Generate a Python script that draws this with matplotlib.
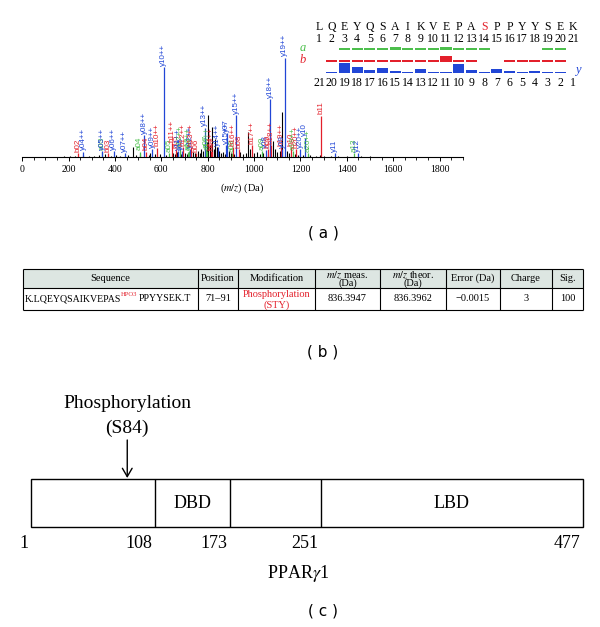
import matplotlib.pyplot as plt
from matplotlib.patches import Rectangle
from matplotlib.ticker import MultipleLocator

plt.rcParams['font.family'] = ['Liberation Serif', 'DejaVu Serif']
plt.rcParams['mathtext.fontset'] = 'stix'

W, H = 600, 627
RED = '#e3202b'
BLUE = '#2146d6'
GREEN = '#4cbf4c'
ion_colors = {'a': GREEN, 'b': RED, 'y': BLUE}

# ---------------- (a) MS/MS spectrum ----------------
# annotated fragment peaks (m/z, relative height, series, label)
frag_mz = [242, 264, 343, 345, 371, 394, 442, 506, 526, 534, 561, 581, 610,
           634, 645, 662, 674, 680, 689, 694, 715, 721, 724, 729, 749, 788,
           792, 799, 813, 820, 844, 880, 883, 905, 910, 923, 933, 991, 1034,
           1050, 1062, 1069, 1073, 1117, 1121, 1133, 1161, 1167, 1181, 1198,
           1218, 1231, 1290, 1348, 1430, 1447]
frag_int = [4, 5, 5, 6, 4, 6, 4, 5, 22, 5, 8, 9, 90,
            4, 14, 8, 6, 8, 6, 10, 5, 6, 8, 10, 4, 29,
            8, 6, 6, 6, 10, 12, 24, 4, 10, 42, 8, 12, 6,
            7, 8, 58, 12, 10, 8, 99, 10, 6, 8, 8,
            19, 4, 41, 4, 4, 4]
frag_ion = ['b', 'y', 'a', 'y', 'b', 'y', 'y', 'a', 'y', 'b', 'y', 'b', 'y',
            'a', 'b', 'b', 'y', 'a', 'y', 'b', 'a', 'a', 'y', 'b', 'b', 'y',
            'a', 'a', 'b', 'b', 'y', 'y', 'y', 'a', 'b', 'y', 'b', 'b', 'a',
            'y', 'b', 'y', 'b', 'b', 'y', 'y', 'b', 'a', 'b', 'y',
            'y', 'a', 'b', 'y', 'a', 'y']
frag_lab = ['b02', 'y04++', 'a03', 'y05++', 'b03', 'y06++', 'y07++', 'a04',
            'y08++', 'b04', 'y09++', 'b10++', 'y10++', 'a05', 'b11++', 'b05',
            'y11++', 'a12++', 'y05', 'b12++', 'a13++', 'a06', 'y12++',
            'b13++', 'b06', 'y13++', 'a07', 'a14++', 'b14++', 'b07', 'y14++',
            'y15++', 'y07', 'a08', 'b16++', 'y15++', 'b08', 'b17++', 'a09',
            'y08', 'b09', 'y18++', 'b18++', 'b19++', 'y09', 'y19++', 'b10',
            'a19++', 'b20++', 'y20++', 'y10', 'a20++', 'b11', 'y11', 'a13',
            'y12']

# unassigned peaks
noise_mz = [180, 205, 228, 262, 290, 310, 330, 356, 382, 405, 420, 455, 478,
            490, 510, 545, 553, 572, 596, 620, 650, 660, 668, 685, 700, 710,
            735, 745, 757, 765, 772, 780, 796, 803, 812, 818, 825, 832, 838,
            850, 858, 866, 875, 890, 900, 915, 940, 950, 963, 975, 983, 1000,
            1012, 1025, 1040, 1058, 1080, 1088, 1097, 1110, 1122, 1140, 1150,
            1175, 1190, 1210, 1240, 1265, 1285, 1300, 1330, 1360, 1400, 1460,
            1500]
noise_int = [1, 1.5, 1, 2, 1.5, 1, 2, 3, 1.5, 2, 1.5, 2, 10,
             2, 3, 2, 4, 3, 3, 2, 4, 3, 5, 3, 4, 3,
             5, 4, 6, 4, 8, 6, 15, 42, 12, 30, 8, 18, 10,
             6, 4, 5, 3, 6, 4, 3, 5, 3, 4, 25, 8, 4,
             5, 3, 4, 3, 16, 8, 5, 6, 45, 6, 4,
             3, 2, 2, 2, 1.5, 2, 1, 1, 1, 1, 1,
             1]

# fragment coverage map
residues = list('LQEYQSAIKVEPASPPYYSEK')
phospho_site = 14
a_pos = [3, 4, 5, 6, 7, 8, 9, 10, 11, 12, 13, 14, 19, 20]
a_size = [1.6, 1.6, 1.6, 1.6, 2.6, 1.6, 1.6, 1.6, 2.6, 1.6, 1.6, 1.6, 1.6, 1.6]
b_pos = [2, 3, 4, 5, 6, 7, 8, 9, 10, 11, 12, 13, 16, 17, 18, 19, 20]
b_size = [2, 2, 2, 2, 2, 2, 2, 2, 2, 5.5, 2, 2, 2, 2, 2, 2, 2]
y_pos = list(range(2, 21))
y_size = [1.5, 10, 6, 3, 5, 2.5, 1.5, 4.3, 1.5, 1.5, 9.3, 2.7, 1.5, 3.7,
          2.3, 1.5, 2, 1.5, 1.5]

# ---------------- (b) table ----------------
col_edges = [23, 198, 238, 315, 380, 446, 500, 552, 583]
header = ['Sequence', 'Position', 'Modification', None, None, 'Error (Da)',
          'Charge', 'Sig.']
row_vals = [None, '71–91', None, '836.3947', '836.3962', '−0.0015', '3', '100']

# ---------------- (c) PPARg1 domains ----------------
domain_bounds = [1, 108, 173, 251, 477]
domain_names = ['', 'DBD', '', 'LBD']
phospho_res = 84

fig = plt.figure(figsize=(W / 100, H / 100), dpi=100)


def px_axes(x0, y0, x1, y1):
    ax = fig.add_axes([x0 / W, 1 - y1 / H, (x1 - x0) / W, (y1 - y0) / H])
    return ax


# spectrum
ax = px_axes(22.2, 57, 462.8, 157)
ax.set_xlim(0, 1900)
ax.set_ylim(0, 100)
ax.vlines(noise_mz, 0, noise_int, color='black', lw=0.8)
for mz, h, ion, lab in zip(frag_mz, frag_int, frag_ion, frag_lab):
    c = ion_colors[ion]
    ax.vlines(mz, 0, h, color=c, lw=0.9)
    ax.text(mz, h + 1.5, lab, rotation=90, ha='center', va='bottom',
            fontsize=5.8, color=c, family='Liberation Sans', clip_on=False)
for s in ['left', 'top', 'right']:
    ax.spines[s].set_visible(False)
ax.spines['bottom'].set_linewidth(0.8)
ax.set_yticks([])
ax.set_xticks(range(0, 1801, 200))
ax.xaxis.set_minor_locator(MultipleLocator(50))
ax.tick_params(axis='x', which='major', length=3, width=0.7, labelsize=7, pad=3)
ax.tick_params(axis='x', which='minor', length=2, width=0.6)
ax.set_xlabel('($\\mathit{m/z}$) (Da)', fontsize=7.5, labelpad=5)

# coverage map
ax2 = px_axes(290, 10, 600, 95)
ax2.set_xlim(1 + (290 - 319) / 12.7, 1 + (600 - 319) / 12.7)
ax2.set_ylim(95, 10)
ax2.axis('off')
for i, r in enumerate(residues):
    ax2.text(i + 1, 27, r, ha='center', va='center', fontsize=8.5,
             color=RED if i + 1 == phospho_site else 'black')
    ax2.text(i + 1, 39, str(i + 1), ha='center', va='center', fontsize=8.5)
    ax2.text(i + 1, 83, str(len(residues) - i), ha='center', va='center',
             fontsize=8.5)
ax2.bar(a_pos, [-v for v in a_size], bottom=50, width=0.88, color=GREEN)
ax2.bar(b_pos, [-v for v in b_size], bottom=61.5, width=0.88, color=RED)
ax2.bar(y_pos, [-v for v in y_size], bottom=73, width=0.88, color=BLUE)
ax2.text(-0.3, 48, 'a', style='italic', color=GREEN, fontsize=9,
         ha='center', va='center')
ax2.text(-0.3, 60, 'b', style='italic', color=RED, fontsize=9,
         ha='center', va='center')
ax2.text(21.4, 70.5, 'y', style='italic', color=BLUE, fontsize=9,
         ha='center', va='center')

# table
ax3 = px_axes(20, 265, 586, 314)
ax3.set_xlim(20, 586)
ax3.set_ylim(314, 265)
ax3.axis('off')
ax3.add_patch(Rectangle((23, 269), 560, 19, facecolor='#dde6e2',
                        edgecolor='none'))
ax3.hlines([269, 288, 310], 23, 583, color='black', lw=0.8)
ax3.vlines(col_edges, 269, 310, color='black', lw=0.8)
centers = [(a + b) / 2 for a, b in zip(col_edges[:-1], col_edges[1:])]
for cx, txt in zip(centers, header):
    if txt:
        ax3.text(cx, 278.5, txt, ha='center', va='center', fontsize=7.5)
for cx, txt in zip(centers[3:5], ['meas.', 'theor.']):
    ax3.text(cx, 275, '$\\mathit{m/z}$ ' + txt, ha='center', va='center',
             fontsize=7.5)
    ax3.text(cx, 283.5, '(Da)', ha='center', va='center', fontsize=7.5)
for cx, txt in zip(centers, row_vals):
    if txt:
        ax3.text(cx, 299, txt, ha='center', va='center', fontsize=7.5)
ax3.text(centers[2], 294.5, 'Phosphorylation', ha='center', va='center',
         fontsize=7.5, color=RED)
ax3.text(centers[2], 305.5, '(STY)', ha='center', va='center', fontsize=7.5,
         color=RED)
t1 = ax3.text(24.5, 299, 'K.LQEYQSAIKVEPAS', ha='left', va='center',
              fontsize=7.1)
t2 = ax3.annotate('HPO3', xy=(1, 1.0), xycoords=t1, xytext=(0.2, 0),
                  textcoords='offset points', ha='left', va='center',
                  fontsize=4.8, color=RED)
ax3.annotate('PPYYSEK.T', xy=(1, 0.5), xycoords=(t2, t1), xytext=(0.8, 0),
             textcoords='offset points', ha='left', va='center', fontsize=7.1)

# domain diagram
sc = 552 / 476
ax4 = px_axes(0, 370, 600, 627)
ax4.set_xlim(1 - 31 / sc, 1 + 569 / sc)
ax4.set_ylim(627, 370)
ax4.axis('off')
ax4.add_patch(Rectangle((domain_bounds[0], 479), domain_bounds[-1] - 1, 48,
                        fill=False, lw=1, edgecolor='black'))
ax4.vlines(domain_bounds[1:-1], 479, 527, color='black', lw=1)
for lo, hi, name in zip(domain_bounds[:-1], domain_bounds[1:], domain_names):
    if name:
        ax4.text((lo + hi) / 2, 503, name, ha='center', va='center',
                 fontsize=13)
for b in domain_bounds:
    ax4.annotate(str(b), xy=(b, 543), xytext=(-2, 0),
                 textcoords='offset points', ha='right', va='center',
                 fontsize=13)
ax4.annotate('', xy=(phospho_res, 478), xytext=(phospho_res, 440),
             arrowprops=dict(arrowstyle='->,head_length=0.6,head_width=0.35',
                             lw=1, color='black', shrinkA=0, shrinkB=0))
ax4.text(phospho_res, 403, 'Phosphorylation', ha='center', va='center',
         fontsize=14)
ax4.text(phospho_res, 428, '(S84)', ha='center', va='center', fontsize=14)
ax4.text(231, 574, 'PPAR$\\mathit{\\gamma}$1', ha='center', va='center',
         fontsize=13)

for lab, yy in [('( a )', 233), ('( b )', 352), ('( c )', 611)]:
    fig.text(323 / W, 1 - yy / H, lab, ha='center', va='center', fontsize=11,
             family='DejaVu Sans')

fig.savefig('out.png', dpi=100, facecolor='white')
